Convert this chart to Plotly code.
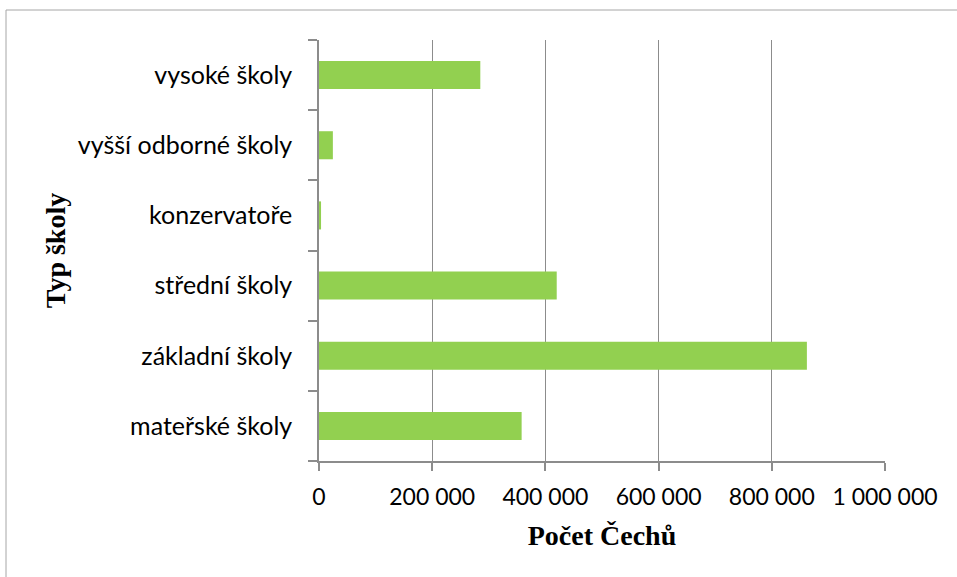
import plotly.graph_objects as go

categories = ["mateřské školy", "základní školy", "střední školy", "konzervatoře",
              "vyšší odborné školy", "vysoké školy"]
values = [358000, 862000, 420000, 3600, 24500, 285000]
tick_vals = [0, 200000, 400000, 600000, 800000, 1000000]
tick_text = ["0", "200 000", "400 000", "600 000", "800 000", "1 000 000"]

W, H = 957, 577
L, R, T, B = 319, 885, 40, 461

fig = go.Figure(go.Bar(
    x=values, y=categories, orientation="h",
    marker=dict(color="#92D050", line=dict(width=0)),
))

grid_c = "#8c8c8c"
fig.update_layout(
    width=W, height=H,
    margin=dict(l=L, r=W - R, t=T, b=H - B, pad=0),
    paper_bgcolor="white", plot_bgcolor="white",
    bargap=0.6, showlegend=False,
    font=dict(family="Lato", size=24, color="black"),
    xaxis=dict(
        range=[0, 1000000], tickvals=tick_vals, ticktext=tick_text,
        showgrid=True, gridcolor=grid_c, gridwidth=1,
        showline=True, linecolor=grid_c, linewidth=1.5,
        ticks="outside", ticklen=8, tickcolor=grid_c, tickwidth=1.5,
        zeroline=False, ticklabelstandoff=7,
        tickfont=dict(family="Lato", size=23),
        title=dict(text="<b>Počet Čechů</b>",
                   font=dict(family="Liberation Serif", size=28, color="black"),
                   standoff=16),
    ),
    yaxis=dict(
        showgrid=False, showline=True, linecolor=grid_c, linewidth=1.5,
        ticks="outside", ticklen=9, tickcolor=grid_c, tickwidth=1.5,
        tickson="boundaries", ticklabelstandoff=20,
        tickfont=dict(family="Lato", size=25),
        title=dict(text="<b>Typ školy</b>",
                   font=dict(family="Liberation Serif", size=28, color="black"),
                   standoff=4),
    ),
)

pw, ph = R - L, B - T
def px(x):
    return (x - L) / pw
def py(y):
    return (B - y) / ph

fig.add_shape(type="rect", xref="paper", yref="paper",
              x0=px(6), x1=px(W + 5), y0=py(H + 5), y1=py(10),
              line=dict(color="#a6a6a6", width=1), fillcolor="rgba(0,0,0,0)", layer="below")

fig.write_html("out.html", config={"displayModeBar": False},
               post_script="document.body.style.margin='0';")
